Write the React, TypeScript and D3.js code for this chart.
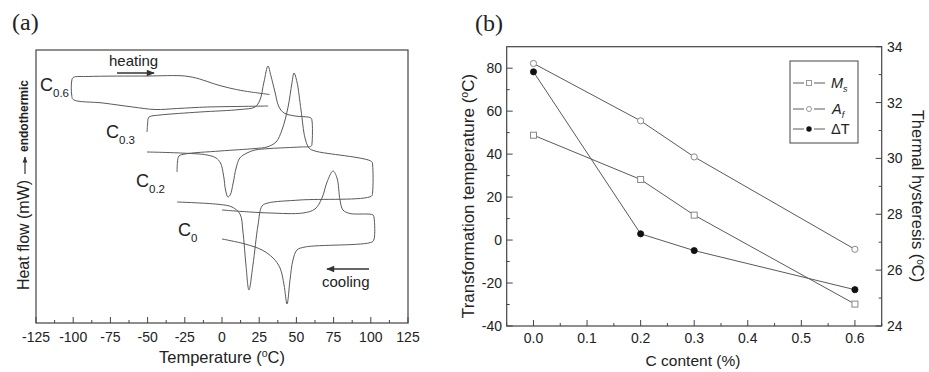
import React from "react";
import * as d3 from "d3";

// ---------- Panel (a): DSC curves, [temperature °C, heat flow (arb. units)] ----------
const dscC06: [number, number][] = [
  [31, 217], [10, 216.5], [-10, 216], [-30, 214.5], [-45, 213.5], [-60, 216], [-80, 220],
  [-100, 223.5], [-101, 228], [-101, 242], [-100, 245.5], [-90, 246.5], [-50, 247], [-25, 247],
  [-15, 244], [-5, 239], [5, 235], [15, 232], [32, 228.5],
];
const dscC03: [number, number][] = [
  [-50.4, 191], [-50, 199], [-49.5, 205], [-48.4, 206.5], [-41.7, 208], [-14.8, 211], [12.1, 213.5],
  [22.2, 216], [25.5, 223], [28.2, 241], [30.9, 257], [32.9, 247], [35.6, 231], [38.3, 216],
  [41.7, 210], [49, 207], [59.8, 205], [60.5, 202], [60.5, 180], [60, 177], [52.4, 176],
  [32.3, 174.5], [22.2, 173], [16.8, 170], [12, 165], [9.5, 155], [7.5, 140], [5.5, 128],
  [4, 126], [2.5, 132], [1, 148], [-1, 160], [-4, 165], [-10, 168], [-28, 170], [-50.4, 171],
];
const dscC02: [number, number][] = [
  [-30.2, 151], [-29.9, 161], [-28.9, 167], [-24.9, 169], [-1.3, 172], [22.2, 174.5], [30.2, 176],
  [36.3, 181], [40.3, 193], [44.4, 216], [47, 240], [48.4, 250], [50.4, 241], [53.1, 213],
  [55.8, 185], [58.5, 175], [62.5, 172], [100.5, 161.5], [101.2, 158], [101.2, 131], [100.5, 127],
  [52.4, 123], [30.9, 120], [26.9, 117], [24.2, 98], [20.8, 58], [18.1, 33], [16.1, 58],
  [14.1, 91], [12.1, 109], [6.7, 116], [-1.3, 118.5], [-30.2, 121],
];
const dscC0: [number, number][] = [
  [0, 113], [18.8, 111], [32.3, 110], [54.4, 110], [62.5, 114], [67.2, 125], [70.6, 141],
  [74.6, 152], [77.3, 145], [79.3, 123], [81.3, 113], [86, 109.5], [101.5, 108], [102.2, 105],
  [102.2, 84], [100.8, 81], [55.8, 76], [50.4, 73], [47.7, 63], [45.7, 43], [43.7, 19],
  [41.7, 38], [39, 55], [34.3, 65], [26.9, 73], [15.5, 79], [0, 84],
];
const tempTicks = [-125, -100, -75, -50, -25, 0, 25, 50, 75, 100, 125];

// ---------- Panel (b): transformation temperatures vs carbon content ----------
const carbon = [0.0, 0.2, 0.3, 0.6];
const msTemp = [48.8, 28.2, 11.6, -29.8];
const afTemp = [82.2, 55.5, 38.7, -4.3];
const hysteresis = [33.1, 27.3, 26.7, 25.3];
const carbonTicks = [0, 0.1, 0.2, 0.3, 0.4, 0.5, 0.6];
const tempLeftTicks = [-40, -20, 0, 20, 40, 60, 80];
const hystTicks = [24, 26, 28, 30, 32, 34];

const SANS = "'Liberation Sans', Arial, Helvetica, sans-serif";
const SERIF = "'Liberation Serif', 'Times New Roman', serif";
const LINE = "#5a5a5a";
const AXIS = "#444";
const TEXT = "#222";

export default function App() {
  // panel (a) scales
  const xa = d3.scaleLinear().domain([-125, 125]).range([36, 408]);
  const ya = d3.scaleLinear().domain([0, 273]).range([323, 50]);
  const dscLine = d3
    .line<[number, number]>()
    .x((d) => xa(d[0]))
    .y((d) => ya(d[1]))
    .curve(d3.curveCatmullRom.alpha(0.5));
  const minorA = d3.range(-112.5, 125, 25);

  // panel (b) scales
  const xb = d3.scaleLinear().domain([-0.05, 0.65]).range([506.7, 881.7]);
  const yl = d3.scaleLinear().domain([-40, 90]).range([326, 46.7]);
  const yr = d3.scaleLinear().domain([24, 34]).range([326, 46.7]);
  const msPts = carbon.map((c, i) => [xb(c), yl(msTemp[i])] as [number, number]);
  const afPts = carbon.map((c, i) => [xb(c), yl(afTemp[i])] as [number, number]);
  const dtPts = carbon.map((c, i) => [xb(c), yr(hysteresis[i])] as [number, number]);
  const straight = d3.line<[number, number]>();
  const minorXb = d3.range(-0.05, 0.66, 0.1).map((v) => +v.toFixed(2));
  const minorYl = d3.range(-30, 90, 20);
  const minorYr = d3.range(25, 34, 2);

  const [ax0, ax1] = xa.range();
  const [ay0, ay1] = ya.range();
  const [bx0, bx1] = xb.range();
  const [by0, by1] = yl.range();

  return (
    <svg
      width={929}
      height={372}
      style={{ position: "absolute", left: 0, top: 0, background: "#fff" }}
      fontFamily={SANS}
    >
      <defs>
        <marker id="arrR" viewBox="0 0 10 10" refX="9" refY="5" markerWidth="7" markerHeight="5" orient="auto">
          <path d="M0,1 L10,5 L0,9 z" fill="#333" />
        </marker>
      </defs>

      {/* ===== Panel (a) ===== */}
      <text x={12} y={30} fontFamily={SERIF} fontSize={24} fill={TEXT}>(a)</text>
      <rect x={ax0} y={ay1} width={ax1 - ax0} height={ay0 - ay1} fill="none" stroke={AXIS} strokeWidth={1.2} />
      {tempTicks.map((t) => (
        <g key={t}>
          <line x1={xa(t)} x2={xa(t)} y1={ay0} y2={ay0 - 6} stroke={AXIS} />
          <text x={xa(t)} y={342} textAnchor="middle" fontSize={14} fill={TEXT}>{t}</text>
        </g>
      ))}
      {minorA.map((t) => (
        <line key={t} x1={xa(t)} x2={xa(t)} y1={ay0} y2={ay0 - 3} stroke={AXIS} />
      ))}
      {[dscC06, dscC03, dscC02, dscC0].map((c, i) => (
        <path key={i} d={dscLine(c) || ""} fill="none" stroke={LINE} strokeWidth={1} />
      ))}
      {/* curve labels */}
      <text x={40} y={91} fontSize={18} fill={TEXT}>C<tspan fontSize={11.5} dy={6}>0.6</tspan></text>
      <text x={106} y={138} fontSize={18} fill={TEXT}>C<tspan fontSize={11.5} dy={6}>0.3</tspan></text>
      <text x={136} y={187} fontSize={18} fill={TEXT}>C<tspan fontSize={11.5} dy={6}>0.2</tspan></text>
      <text x={178} y={236} fontSize={18} fill={TEXT}>C<tspan fontSize={11.5} dy={6}>0</tspan></text>
      {/* direction annotations */}
      <text x={109} y={66} fontSize={15} fill={TEXT}>heating</text>
      <line x1={117} x2={154} y1={73} y2={73} stroke="#333" strokeWidth={1.6} markerEnd="url(#arrR)" />
      <text x={322} y={287} fontSize={15} fill={TEXT}>cooling</text>
      <line x1={369} x2={327} y1={269} y2={269} stroke="#333" strokeWidth={1.6} markerEnd="url(#arrR)" />
      {/* axis titles */}
      <text x={222} y={363} textAnchor="middle" fontSize={16.5} fill={TEXT}>
        Temperature (<tspan fontSize={10.5} dy={-6}>o</tspan><tspan dy={6}>C)</tspan>
      </text>
      <text transform="translate(29,235) rotate(-90)" textAnchor="middle" fontSize={16} fill={TEXT}>
        Heat flow (mW)
      </text>
      <line x1={25} x2={25} y1={174} y2={157} stroke="#333" strokeWidth={1.2} markerEnd="url(#arrR)" />
      <text transform="translate(28,152) rotate(-90)" textAnchor="start" fontSize={12} fontWeight="bold" fill={TEXT}>
        endothermic
      </text>

      {/* ===== Panel (b) ===== */}
      <text x={475} y={31} fontFamily={SERIF} fontSize={24} fill={TEXT}>(b)</text>
      <rect x={bx0} y={by1} width={bx1 - bx0} height={by0 - by1} fill="none" stroke={AXIS} strokeWidth={1.2} />
      {carbonTicks.map((t) => (
        <g key={t}>
          <line x1={xb(t)} x2={xb(t)} y1={by0} y2={by0 - 6} stroke={AXIS} />
          <text x={xb(t)} y={343} textAnchor="middle" fontSize={14} fill={TEXT}>{t.toFixed(1)}</text>
        </g>
      ))}
      {minorXb.map((t) => (
        <line key={t} x1={xb(t)} x2={xb(t)} y1={by0} y2={by0 - 3} stroke={AXIS} />
      ))}
      {tempLeftTicks.map((t) => (
        <g key={t}>
          <line x1={bx0} x2={bx0 + 6} y1={yl(t)} y2={yl(t)} stroke={AXIS} />
          <text x={502} y={yl(t) + 5} textAnchor="end" fontSize={14} fill={TEXT}>{t}</text>
        </g>
      ))}
      {minorYl.map((t) => (
        <line key={t} x1={bx0} x2={bx0 + 3} y1={yl(t)} y2={yl(t)} stroke={AXIS} />
      ))}
      {hystTicks.map((t) => (
        <g key={t}>
          <line x1={bx1} x2={bx1 - 6} y1={yr(t)} y2={yr(t)} stroke={AXIS} />
          <text x={887} y={yr(t) + 5} textAnchor="start" fontSize={14} fill={TEXT}>{t}</text>
        </g>
      ))}
      {minorYr.map((t) => (
        <line key={t} x1={bx1} x2={bx1 - 3} y1={yr(t)} y2={yr(t)} stroke={AXIS} />
      ))}

      <path d={straight(msPts) || ""} fill="none" stroke={LINE} strokeWidth={1} />
      <path d={straight(afPts) || ""} fill="none" stroke={LINE} strokeWidth={1} />
      <path d={straight(dtPts) || ""} fill="none" stroke={LINE} strokeWidth={1} />
      {msPts.map(([x, y], i) => (
        <rect key={i} x={x - 3} y={y - 3} width={6} height={6} fill="#fff" stroke="#888" strokeWidth={1} />
      ))}
      {afPts.map(([x, y], i) => (
        <circle key={i} cx={x} cy={y} r={3.1} fill="#fff" stroke="#888" strokeWidth={1} />
      ))}
      {dtPts.map(([x, y], i) => (
        <circle key={i} cx={x} cy={y} r={3.1} fill="#111" stroke="#111" strokeWidth={0.8} />
      ))}

      {/* legend */}
      <rect x={790} y={61} width={68} height={82} fill="#fff" stroke={AXIS} strokeWidth={1} />
      {[83, 109, 129].map((y, i) => (
        <g key={i}>
          <line x1={793} x2={804} y1={y} y2={y} stroke={LINE} />
          <line x1={814} x2={825} y1={y} y2={y} stroke={LINE} />
          {i === 0 && <rect x={806.5} y={y - 2.5} width={5} height={5} fill="#fff" stroke="#999" />}
          {i === 1 && <circle cx={809} cy={y} r={2.5} fill="#fff" stroke="#999" />}
          {i === 2 && <circle cx={809} cy={y} r={2.7} fill="#111" />}
        </g>
      ))}
      <text x={831} y={88} fontSize={14.5} fill={TEXT} fontStyle="italic">M<tspan fontSize={9} dy={4}>s</tspan></text>
      <text x={832} y={114} fontSize={14.5} fill={TEXT} fontStyle="italic">A<tspan fontSize={9} dy={4}>f</tspan></text>
      <text x={831} y={134} fontSize={14.5} fill={TEXT}>ΔT</text>

      {/* axis titles */}
      <text x={693} y={366} textAnchor="middle" fontSize={15.5} fill={TEXT}>C content (%)</text>
      <text transform="translate(474,196) rotate(-90)" textAnchor="middle" fontSize={17} fill={TEXT}>
        Transformation temperature (<tspan fontSize={10.5} dy={-6}>o</tspan><tspan dy={6}>C)</tspan>
      </text>
      <text transform="translate(912,196) rotate(90)" textAnchor="middle" fontSize={16.5} fill={TEXT}>
        Thermal hysteresis (<tspan fontSize={10} dy={-4.5}>o</tspan><tspan dy={4.5}>C)</tspan>
      </text>
    </svg>
  );
}
